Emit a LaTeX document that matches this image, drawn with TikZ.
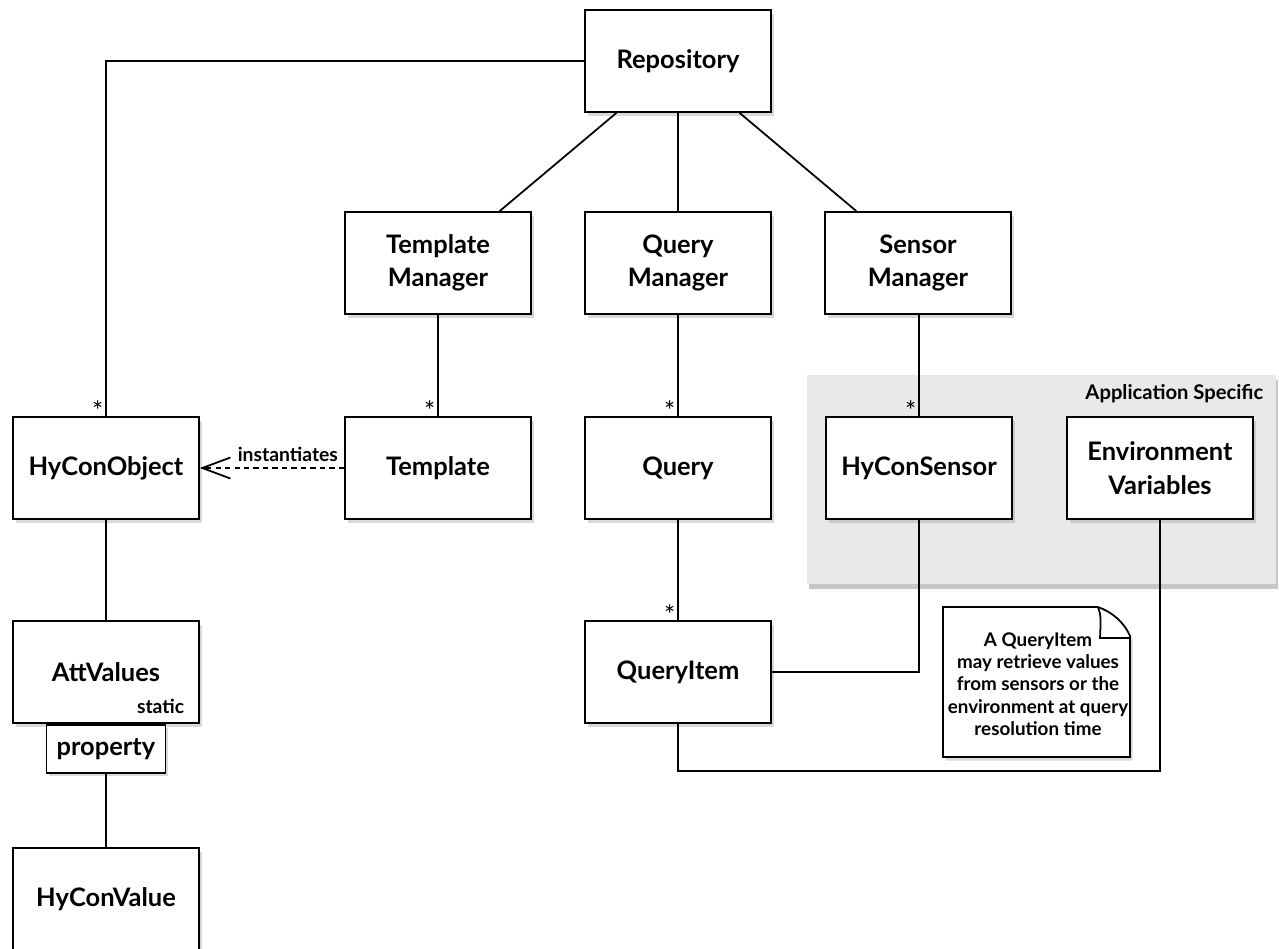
\documentclass[tikz,border=0pt]{standalone}
\usepackage{fontspec}
\setmainfont{Lato}
\usepackage{tikz}
\usetikzlibrary{shapes,backgrounds,calc,arrows.meta,shadows}
\begin{document}
\begin{tikzpicture}[x=0.02cm,y=-0.02cm,
        font=\bfseries\fontsize{14.5}{19}\selectfont,
        line width=1pt]
        \tikzset{softshadow/.style={drop shadow={shadow xshift=1.5pt, shadow yshift=-2pt, opacity=0.3}}};
        \tikzset{umlbox/.style={draw, fill=white, align=center, minimum width=3.72cm, minimum height=2.04cm, inner sep=0pt, softshadow}};
        \tikzset{smalltext/.style={font=\bfseries\fontsize{11}{12.7}\selectfont}};
        \tikzset{mult/.style={font=\fontsize{15}{15}\selectfont, inner sep=1pt, yshift=-4pt}};
        \useasboundingbox (0,0) rectangle (1279,948);
        
        % Grey region for the application specific classes
        \fill[gray!17, drop shadow={shadow xshift=1pt, shadow yshift=-3pt, opacity=0.45}] (807,375) rectangle (1276,584);
        \node[smalltext, font=\bfseries\fontsize{11.5}{13}\selectfont, anchor=north east] (appl) at (1270,378) {Application Specific};
        
        % Classes
        \node[umlbox] (repo) at (678,61) {Repository};
        \node[umlbox] (tmgr) at (438,263) {Template\\Manager};
        \node[umlbox] (qmgr) at (678,263) {Query\\Manager};
        \node[umlbox] (smgr) at (918,263) {Sensor\\Manager};
        \node[umlbox] (hyobj) at (106,468) {HyConObject};
        \node[umlbox] (tmpl) at (438,468) {Template};
        \node[umlbox] (query) at (678,468) {Query};
        \node[umlbox] (hsens) at (919,468) {HyConSensor};
        \node[umlbox] (envv) at (1160,468) {Environment\\Variables};
        \node[umlbox] (attv) at (106,672) {AttValues};
        \node[umlbox] (qitem) at (678,672) {QueryItem};
        \node[umlbox] (hyval) at (106,899) {HyConValue};
        \node[smalltext, anchor=base east] (static) at ($(attv.south east)+(-9,-10)$) {static};
        \node[umlbox, minimum width=2.38cm, minimum height=0.96cm, anchor=north] (prop) at (attv.south) {property};
        
        % Note about the query items
        \draw[fill=white, softshadow]
            (943,607) -- (1098,607) .. controls (1112,612) and (1124,622) .. (1130,636) -- (1130,757) -- (943,757) -- cycle;
        \draw (1098,607) .. controls (1101,616) .. (1100,638) -- (1130,638);
        \node[smalltext, font=\bfseries\fontsize{10.7}{12.7}\selectfont, align=center] (note) at (1038,684) {A QueryItem\\may retrieve values\\from sensors or the\\environment at query\\resolution time};
        
        % Associations
        \draw (repo.west) -| (hyobj.north) node[mult, pos=1, above left] {*};
        \draw (repo) -- (tmgr);
        \draw (repo) -- (qmgr);
        \draw (repo) -- (smgr);
        \draw (tmgr) -- (tmpl) node[mult, pos=1, above left] {*};
        \draw (qmgr) -- (query) node[mult, pos=1, above left] {*};
        \draw (smgr.south -| hsens.north) -- (hsens.north) node[mult, pos=1, above left] {*};
        \draw (query) -- (qitem) node[mult, pos=1, above left] {*};
        \draw (hyobj) -- (attv);
        \draw (prop) -- (hyval);
        \draw (qitem.east) -| (hsens.south);
        \draw (qitem.south) -- ++(0,47) -| (envv.south);
        \draw[dash pattern=on 3pt off 2.4pt, -{Straight Barb[length=16pt,width=12pt,line width=1pt]}]
            (tmpl.west) -- (hyobj.east) node[smalltext, pos=0.39, above, inner sep=3pt] {instantiates};
    \end{tikzpicture}
\end{document}
